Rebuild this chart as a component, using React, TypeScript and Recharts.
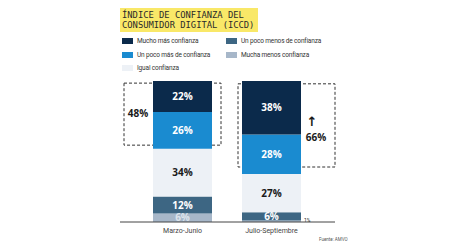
import React from "react";
import { BarChart, Bar, XAxis, YAxis, LabelList, ReferenceArea } from "recharts";

const categories = ["Marzo-Junio", "Julio-Septiembre"];
const muchoMas = [22, 38];
const unPocoMas = [26, 28];
const igual = [34, 27];
const unPocoMenos = [12, 6];
const muchaMenos = [6, 1];

const seriesKeys = ["muchaMenos", "unPocoMenos", "igual", "unPocoMas", "muchoMas"];
const seriesNames = [
  "Mucha menos confianza",
  "Un poco menos de confianza",
  "Igual confianza",
  "Un poco más de confianza",
  "Mucho más confianza",
];
const seriesColors = ["#a7b7c9", "#3d6683", "#edf1f6", "#1a8bd0", "#0b2a4b"];
const labelColors = ["#dde4ec", "#ffffff", "#1a1a1a", "#ffffff", "#ffffff"];

const boxLabels = ["48%", "66%"];
const boxLow = [54.5, 39];
const boxHigh = [98.5, 98];

const titleLines = ["ÍNDICE DE CONFIANZA DEL", "CONSUMIDOR DIGITAL (ICCD)"];
const legendOrder = [4, 3, 2, 1, 0];
const source = "Fuente: AMVO";

const data = categories.map((c, i) => ({
  name: c,
  muchoMas: muchoMas[i],
  unPocoMas: unPocoMas[i],
  igual: igual[i],
  unPocoMenos: unPocoMenos[i],
  muchaMenos: muchaMenos[i],
}));

const BAR = 59;

const makeLabel = (si: number) => (props: any) => {
  const { x, y, width, height, value, index } = props;
  if (si === 0 && index === 1) {
    return (
      <text x={x + width + 3} y={y + height} fontSize={5} fill="#222" fontFamily="Roboto, sans-serif">
        {value}%
      </text>
    );
  }
  return (
    <text
      x={x + width / 2}
      y={y + height / 2}
      dy="0.36em"
      textAnchor="middle"
      fontSize={10}
      fontWeight={700}
      fill={labelColors[si]}
      fontFamily="'Open Sans', Roboto, sans-serif"
    >
      {value}%
    </text>
  );
};

const boxShape = (i: number) => (props: any) => {
  const { x, y, width, height } = props;
  const cx = x + width / 2;
  const left = i === 0 ? cx - BAR / 2 - 29 : cx - BAR / 2 - 4;
  const right = i === 0 ? cx + BAR / 2 + 9 : cx + BAR / 2 + 34;
  const mid = y + height / 2;
  return (
    <g>
      <rect x={left} y={y} width={right - left} height={height} fill="none" stroke="#333" strokeDasharray="3 2" strokeWidth={1} />
      {i === 0 ? (
        <text x={left + 14} y={mid - 1} dy="0.36em" textAnchor="middle" fontSize={10} fontWeight={700} fill="#1a1a1a" fontFamily="'Open Sans', Roboto, sans-serif">
          {boxLabels[i]}
        </text>
      ) : (
        <g>
          <text x={right - 23} y={mid + 1} textAnchor="middle" fontSize={13} fontWeight={700} fill="#1a1a1a" fontFamily="'DejaVu Sans', sans-serif">
            ↑
          </text>
          <text x={right - 19} y={mid + 16} textAnchor="middle" fontSize={10} fontWeight={700} fill="#1a1a1a" fontFamily="'Open Sans', Roboto, sans-serif">
            {boxLabels[i]}
          </text>
        </g>
      )}
    </g>
  );
};

export default function App() {
  return (
    <div style={{ position: "relative", width: 449, height: 252, background: "#fff", overflow: "hidden" }}>
      <style>{`body{margin:0}`}</style>
      <div
        style={{
          position: "absolute",
          left: 120,
          top: 8,
          width: 136,
          padding: "2px 0 2px 2px",
          background: "#f9e868",
          fontFamily: "'DejaVu Sans Mono', monospace",
          fontSize: 8.8,
          lineHeight: "10px",
          color: "#2a2a2a",
        }}
      >
        {titleLines.map((t) => (
          <div key={t} style={{ whiteSpace: "nowrap" }}>{t}</div>
        ))}
      </div>
      {legendOrder.map((si, k) => {
        const col = k < 3 ? 0 : 1;
        const row = k < 3 ? k : k - 3;
        return (
          <div
            key={si}
            style={{
              position: "absolute",
              left: col === 0 ? 122 : 226,
              top: 37 + row * 13.5,
              display: "flex",
              alignItems: "center",
              fontFamily: "Roboto, sans-serif",
              fontSize: 6.5,
              letterSpacing: -0.15,
              color: "#333",
              whiteSpace: "nowrap",
            }}
          >
            <span style={{ display: "inline-block", width: 11, height: 6, background: seriesColors[si], marginRight: 4 }} />
            {seriesNames[si]}
          </div>
        );
      })}
      <div style={{ position: "absolute", top: 0, left: 0 }}>
        <BarChart width={449} height={252} data={data} margin={{ top: 81, right: 114, bottom: 10, left: 120 }}>
          <YAxis hide domain={[0, 100]} />
          <XAxis
            dataKey="name"
            height={20}
            tickLine={false}
            tickSize={0}
            tickMargin={6}
            axisLine={{ stroke: "#444" }}
            padding={{ left: 18, right: 19 }}
            tick={{ fontSize: 7, fill: "#444", fontFamily: "Roboto, sans-serif" }}
          />
          {seriesKeys.map((k, si) => (
            <Bar key={k} dataKey={k} stackId="a" fill={seriesColors[si]} barSize={BAR} isAnimationActive={false}>
              <LabelList dataKey={k} content={makeLabel(si)} />
            </Bar>
          ))}
          {categories.map((c, i) => (
            <ReferenceArea key={c} x1={c} x2={c} y1={boxLow[i]} y2={boxHigh[i]} ifOverflow="visible" shape={boxShape(i)} />
          ))}
        </BarChart>
      </div>
      <div
        style={{
          position: "absolute",
          left: 319,
          top: 237,
          fontFamily: "Roboto, sans-serif",
          fontSize: 4.5,
          color: "#555",
          whiteSpace: "nowrap",
        }}
      >
        {source}
      </div>
    </div>
  );
}
